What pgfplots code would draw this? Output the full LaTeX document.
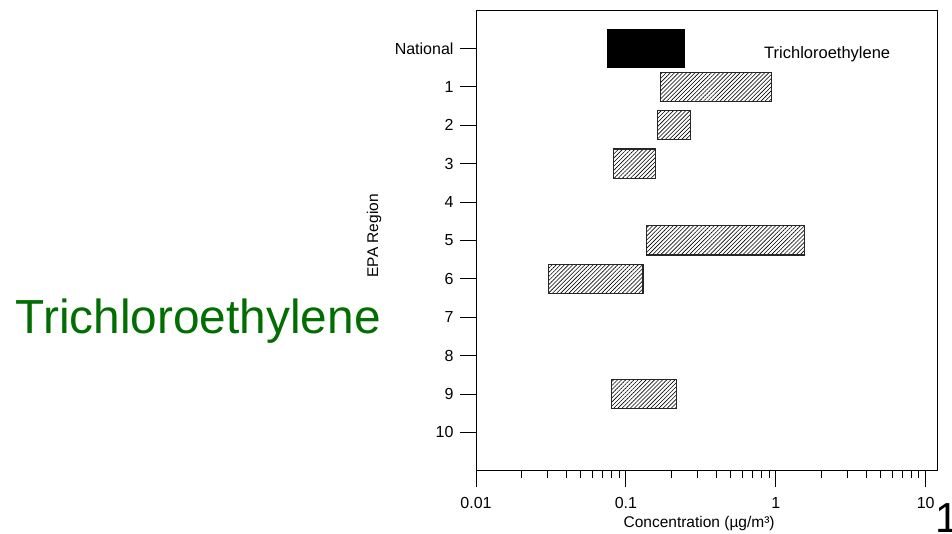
\documentclass[border=0pt]{standalone}
\usepackage{fontspec}
\setmainfont{Liberation Sans}
\usepackage{pgfplots}
\pgfplotsset{compat=1.18}
\usetikzlibrary{patterns.meta}
\definecolor{titlegreen}{RGB}{0,110,0}
\begin{document}
\begin{tikzpicture}
\useasboundingbox (0bp,0bp) rectangle (952bp,534bp);
\begin{axis}[
  at={(476bp,63.3bp)}, anchor=south west,
  width=461bp, height=460.7bp, scale only axis,
  xmode=log, xmin=0.01, xmax=11.9,
  ymin=-1, ymax=11, y dir=reverse,
  xtick={0.01,0.1,1,10}, xticklabels={0.01,0.1,1,10},
  minor xtick={0.02,0.03,0.04,0.05,0.06,0.07,0.08,0.09,0.2,0.3,0.4,0.5,0.6,0.7,0.8,0.9,2,3,4,5,6,7,8,9},
  ytick={0,1,2,3,4,5,6,7,8,9,10}, yticklabels={National,1,2,3,4,5,6,7,8,9,10},
  tick align=outside,
  xtick pos=bottom, ytick pos=left,
  major tick length=16bp, minor tick length=7.5bp,
  every tick/.style={black, line width=0.8bp},
  axis line style={line width=0.8bp},
  tick label style={font=\fontsize{16bp}{19bp}\selectfont},
  xticklabel style={yshift=-7bp},
  yticklabel style={xshift=-3bp},
  xlabel={Concentration (µg/m³)}, ylabel={EPA Region},
  every axis x label/.style={at={(axis description cs:0.484,-0.124)}, anchor=base, font=\fontsize{15.5bp}{18bp}\selectfont},
  every axis y label/.style={at={(axis description cs:-0.221,0.51)}, rotate=90, anchor=center, font=\fontsize{15.5bp}{18bp}\selectfont},
  hatch/.style={draw=black!85, line width=1.2bp, pattern={Lines[angle=45,distance=2.9bp,line width=0.6bp]}, pattern color=black},
  clip=false,
]
% National
\addplot[draw=black, line width=1.2bp, fill=black] coordinates {(0.0759,-0.5) (0.245,-0.5) (0.245,0.5) (0.0759,0.5)} --cycle;
% Region 1
\addplot[hatch] coordinates {(0.171,0.62) (0.940,0.62) (0.940,1.38) (0.171,1.38)} --cycle;
% Region 2
\addplot[hatch] coordinates {(0.162,1.62) (0.271,1.62) (0.271,2.38) (0.162,2.38)} --cycle;
% Region 3
\addplot[hatch] coordinates {(0.0826,2.62) (0.157,2.62) (0.157,3.38) (0.0826,3.38)} --cycle;
% Region 5
\addplot[hatch] coordinates {(0.137,4.62) (1.55,4.62) (1.55,5.38) (0.137,5.38)} --cycle;
% Region 6
\addplot[hatch] coordinates {(0.0304,5.62) (0.130,5.62) (0.130,6.38) (0.0304,6.38)} --cycle;
% Region 9
\addplot[hatch] coordinates {(0.0798,8.62) (0.218,8.62) (0.218,9.38) (0.0798,9.38)} --cycle;
\node[anchor=base west, inner sep=0pt, font=\fontsize{16.5bp}{19bp}\selectfont] at (axis cs:0.835,0.26) {Trichloroethylene};
\end{axis}
\node[anchor=base west, inner sep=0pt, text=titlegreen, font=\fontsize{47.8bp}{52bp}\selectfont] at (15.6bp,200bp) {Trichloroethylene};
\node[anchor=base west, inner sep=0pt, font=\fontsize{42bp}{46bp}\selectfont] at (935.4bp,1.5bp) {1};
\end{tikzpicture}
\end{document}
